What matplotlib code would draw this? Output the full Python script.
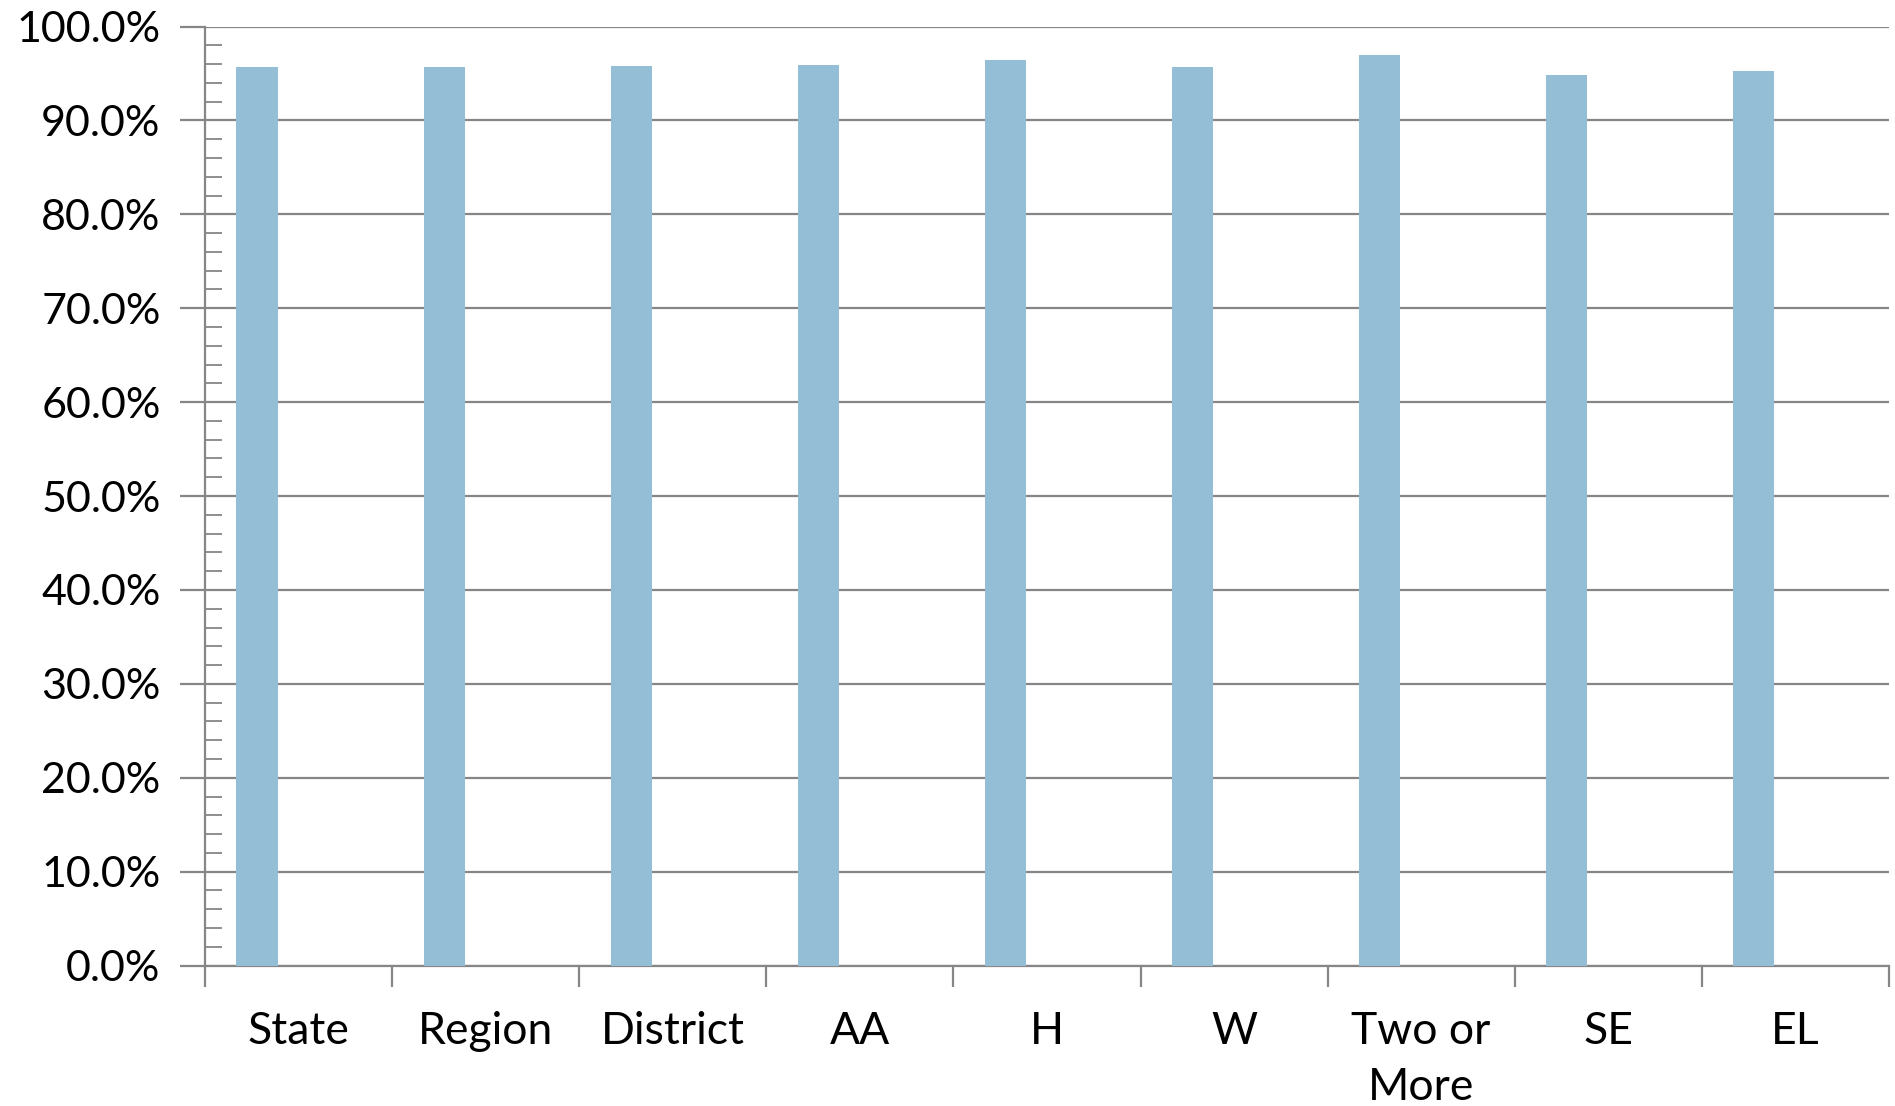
import numpy as np
import matplotlib.pyplot as plt
from matplotlib.ticker import MultipleLocator, PercentFormatter

plt.rcParams['font.family'] = ['Lato', 'DejaVu Sans']

# 各组比例 (%)
groups = ['State', 'Region', 'District', 'AA', 'H', 'W', 'Two or\nMore', 'SE', 'EL']
rates = [95.7, 95.7, 95.8, 95.9, 96.4, 95.7, 97.0, 94.8, 95.3]

fig = plt.figure(figsize=(18.95, 11.06), dpi=100)
ax = fig.add_axes([0.1082, 0.127, 0.8886, 0.849])

x = np.arange(len(groups)) + 0.5
ax.bar(x - 0.222, rates, width=0.22, color='#93BED5', zorder=3)

ax.set_xlim(0, len(groups))
ax.set_ylim(0, 100)

grid_c = '#868686'
ax.yaxis.set_major_locator(MultipleLocator(10))
ax.yaxis.set_minor_locator(MultipleLocator(2))
ax.yaxis.set_major_formatter(PercentFormatter(decimals=1))
ax.grid(axis='y', which='major', color=grid_c, lw=1.6, zorder=1)

ax.set_xticks(np.arange(len(groups) + 1))
ax.set_xticklabels([])
ax.set_xticks(x, minor=True)
ax.set_xticklabels(groups, minor=True, fontsize=32, linespacing=1.45)

ax.tick_params(axis='y', which='major', direction='out', length=18, width=1.6,
               color=grid_c, labelsize=31, pad=14)
ax.tick_params(axis='y', which='minor', direction='in', length=12, width=1.3, color=grid_c)
ax.tick_params(axis='x', which='major', direction='out', length=15, width=1.6, color=grid_c)
ax.tick_params(axis='x', which='minor', length=0, pad=33)

for side in ['top', 'right']:
    ax.spines[side].set_visible(False)
for side in ['left', 'bottom']:
    ax.spines[side].set_color(grid_c)
    ax.spines[side].set_linewidth(1.6)

fig.savefig('out.png', dpi=100, facecolor='white')
